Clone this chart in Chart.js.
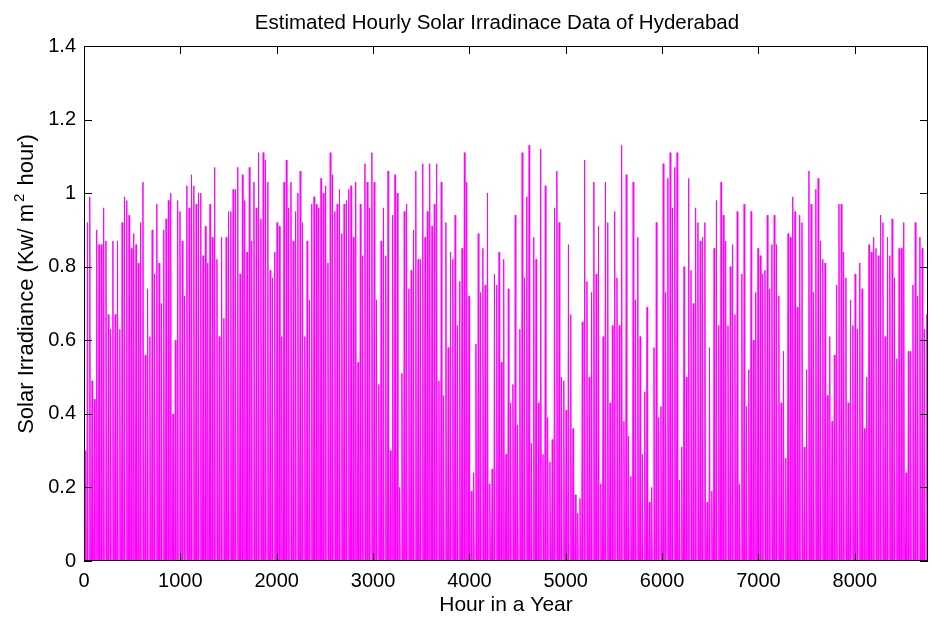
<!DOCTYPE html>
<html>
<head>
<meta charset="utf-8">
<title>Estimated Hourly Solar Irradiance - Hyderabad</title>
<script src="https://cdn.jsdelivr.net/npm/chart.js@4"></script>
<style>
  html, body { margin: 0; padding: 0; background: #fff; }
  #wrap { width: 932px; height: 618px; }
</style>
</head>
<body>
<div id="wrap"><canvas id="solar-chart" width="932" height="618"></canvas></div>
<script>
const xTicks = [0, 1000, 2000, 3000, 4000, 5000, 6000, 7000, 8000];
const yTicks = [0, 0.2, 0.4, 0.6, 0.8, 1, 1.2, 1.4];
const hoursInYear = 8760;

const chartTitle = "Estimated Hourly Solar Irradinace Data of Hyderabad";
// y label is drawn in three parts so the 2 can sit as a superscript
const yLabelParts = ["Solar Irradiance (Kw/ m", "2", " hour)"];
const xLabel = "Hour in a Year";

// sunrise, noon, sunset hour of each day
const dayHours = [6, 12, 18];

// noon peak of each day (kW/m2), day 1 .. day 365
const dailyPeak = [
  0.30, 0.92, 0.99, 0.49, 0.44, 0.90, 0.86, 0.86, 0.96, 0.87,
  0.67, 0.63, 0.87, 0.67, 0.87, 0.63, 0.92, 0.99, 0.98, 0.94,
  0.85, 0.89, 0.86, 0.81, 0.92, 1.03, 0.56, 0.74, 0.61, 0.90,
  0.78, 0.97, 0.81, 0.70, 0.90, 0.93, 0.98, 1.00, 0.40, 0.60,
  0.98, 0.95, 0.87, 0.72, 1.02, 0.96, 1.05, 1.02, 0.97, 1.00,
  1.00, 0.83, 0.91, 0.81, 0.97, 0.88, 1.07, 0.82, 0.61, 0.88,
  0.66,
  0.88, 0.95, 0.95, 1.01, 1.01, 1.07, 0.78, 1.05, 0.98, 0.84,
  1.07, 0.87, 1.03, 0.96, 1.11, 0.93, 1.11, 1.09, 1.03, 0.79,
  0.77, 0.84, 0.92, 0.91, 0.61, 1.03, 1.09, 0.96, 1.03, 0.87,
  0.95, 1.00, 1.06, 0.92, 0.61, 0.87, 0.71, 0.97, 0.99, 0.97,
  0.96, 1.04, 1.00, 1.02, 0.81, 1.11, 1.05, 0.95, 0.97, 1.01,
  0.89, 0.97, 0.98, 1.01, 1.02, 0.88, 1.03, 0.54, 0.97, 0.83,
  1.08,
  1.03, 0.96, 1.11, 1.03, 0.71, 0.48, 0.87, 0.96, 0.83, 1.06,
  0.30, 0.94, 1.05, 1.00, 0.20, 0.51, 0.95, 0.97, 0.74, 0.79,
  0.90, 1.06, 0.82, 0.82, 1.08, 0.88, 0.95, 1.08, 0.91, 0.97,
  1.08, 0.49, 1.03, 0.45, 0.92, 0.58, 0.84, 0.82, 0.94, 0.64,
  0.76, 0.85, 1.11, 1.03, 0.72, 0.19, 0.24, 0.59, 0.89, 0.73,
  0.85, 0.75, 1.00, 0.21, 0.25, 0.78, 0.75, 0.84, 0.54, 0.82,
  0.29,
  0.74, 0.43, 0.48, 0.94, 0.37, 0.63, 1.11, 0.77, 0.99, 1.13,
  0.32, 0.88, 0.82, 0.43, 1.12, 0.29, 1.02, 0.39, 0.27, 0.33,
  0.96, 1.06, 0.92, 0.50, 0.49, 0.41, 0.86, 0.67, 0.36, 0.18,
  0.13, 0.17, 0.65, 1.09, 0.76, 0.50, 0.73, 1.03, 0.78, 0.91,
  0.21, 0.61, 1.03, 0.92, 0.43, 0.64, 0.95, 0.77, 0.64, 1.13,
  0.38, 1.05, 0.34, 0.23, 1.03, 0.71, 0.88, 0.61, 0.29, 0.46,
  0.69,
  0.16, 0.20, 0.58, 0.92, 0.39, 0.42, 1.08, 0.73, 1.04, 1.11,
  0.96, 1.07, 1.11, 0.22, 0.31, 0.80, 0.50, 1.04, 0.79, 0.70,
  0.96, 0.92, 0.87, 0.88, 0.92, 0.16, 0.58, 0.19, 0.85, 0.98,
  0.64, 1.03, 0.94, 0.87, 0.64, 0.80, 0.86, 0.67, 0.95, 0.21,
  0.78, 0.97, 0.42, 0.52, 0.95, 0.60, 0.73, 0.85, 0.83, 0.78,
  0.79, 0.94, 0.74, 0.86, 0.94, 0.86, 0.72, 0.43, 0.57, 0.28,
  0.89,
  0.88, 0.99, 0.95, 0.69, 0.94, 0.92, 0.31, 0.52, 1.06, 0.97,
  0.73, 1.01, 1.04, 0.87, 0.82, 0.81, 0.45, 0.61, 0.38, 0.56,
  0.75, 0.97, 0.97, 0.84, 0.77, 0.43, 0.71, 0.64, 0.78, 0.63,
  0.81, 0.74, 0.36, 0.50, 0.86, 0.84, 0.88, 0.85, 0.83, 0.94,
  0.92, 0.61, 0.88, 0.83, 0.93, 0.77, 0.55, 0.85, 0.85, 0.92,
  0.24, 0.57, 0.57, 0.75, 0.92, 0.72, 0.88, 0.85, 0.63, 0.67
];

const hourlyPoints = [];
dailyPeak.forEach((peak, day) => {
  const dayStart = day * 24;
  hourlyPoints.push(
    { x: dayStart + dayHours[0], y: 0 },
    { x: dayStart + dayHours[1], y: peak },
    { x: dayStart + dayHours[2], y: 0 }
  );
});

const fontFamily = "'Liberation Sans', Arial, Helvetica, sans-serif";

// matlab style box with inward ticks on all four sides, plus the titles
const boxAxes = {
  id: "boxAxes",
  afterDatasetsDraw(chart) {
    const { ctx, chartArea: area, scales } = chart;
    const len = 8;
    ctx.save();
    ctx.strokeStyle = "#000";
    ctx.lineWidth = 1;
    ctx.beginPath();
    xTicks.forEach((v) => {
      const px = Math.round(scales.x.getPixelForValue(v)) + 0.5;
      ctx.moveTo(px, area.bottom);
      ctx.lineTo(px, area.bottom - len);
      ctx.moveTo(px, area.top);
      ctx.lineTo(px, area.top + len);
    });
    yTicks.forEach((v) => {
      const py = Math.round(scales.y.getPixelForValue(v)) + 0.5;
      ctx.moveTo(area.left, py);
      ctx.lineTo(area.left + len, py);
      ctx.moveTo(area.right, py);
      ctx.lineTo(area.right - len, py);
    });
    ctx.stroke();
    ctx.strokeRect(area.left + 0.5, area.top + 0.5, area.width - 1, area.height - 1);
    ctx.restore();
  },
  afterDraw(chart) {
    const { ctx } = chart;
    ctx.save();
    ctx.fillStyle = "#000";
    ctx.textBaseline = "alphabetic";

    ctx.font = "20.5px " + fontFamily;
    ctx.textAlign = "center";
    ctx.fillText(chartTitle, 497, 29);

    // rotated y label with superscript
    const mainFont = "22px " + fontFamily;
    const supFont = "15px " + fontFamily;
    const gap = 2;
    ctx.font = mainFont;
    const w1 = ctx.measureText(yLabelParts[0]).width;
    const w3 = ctx.measureText(yLabelParts[2]).width;
    ctx.font = supFont;
    const w2 = ctx.measureText(yLabelParts[1]).width;
    const total = w1 + w2 + w3 + gap * 2;
    ctx.translate(33, 284);
    ctx.rotate(-Math.PI / 2);
    ctx.textAlign = "left";
    let pos = -total / 2;
    ctx.font = mainFont;
    ctx.fillText(yLabelParts[0], pos, 0);
    pos += w1 + gap;
    ctx.font = supFont;
    ctx.fillText(yLabelParts[1], pos, -9);
    pos += w2 + gap;
    ctx.font = mainFont;
    ctx.fillText(yLabelParts[2], pos, 0);
    ctx.restore();
  },
};

Chart.defaults.font.family = fontFamily;
Chart.defaults.color = "#000";

new Chart(document.getElementById("solar-chart"), {
  type: "line",
  data: {
    datasets: [
      {
        label: "Solar Irradiance",
        data: hourlyPoints,
        borderColor: "#ff00ff",
        backgroundColor: "#ff00ff",
        borderWidth: 1,
        pointRadius: 0,
        tension: 0,
        fill: "origin",
      },
    ],
  },
  options: {
    responsive: false,
    animation: false,
    layout: { padding: { left: 0, right: 4, top: 46, bottom: 0 } },
    plugins: {
      legend: { display: false },
      tooltip: { enabled: false },
      title: { display: false },
    },
    scales: {
      x: {
        type: "linear",
        min: 0,
        max: hoursInYear,
        grid: { display: false, drawTicks: false },
        border: { display: false },
        afterBuildTicks: (scale) => {
          scale.ticks = xTicks.map((v) => ({ value: v }));
        },
        afterFit: (scale) => {
          scale.height = 57;
        },
        ticks: {
          font: { size: 20 },
          color: "#000",
          padding: 8,
          maxRotation: 0,
          callback: (v) => String(v),
        },
        title: {
          display: true,
          text: xLabel,
          font: { size: 21 },
          color: "#000",
          padding: { top: 0, bottom: 0 },
        },
      },
      y: {
        min: 0,
        max: 1.4,
        grid: { display: false, drawTicks: false },
        border: { display: false },
        afterBuildTicks: (scale) => {
          scale.ticks = yTicks.map((v) => ({ value: v }));
        },
        afterFit: (scale) => {
          scale.width = 84;
        },
        ticks: {
          font: { size: 20 },
          color: "#000",
          padding: 8,
          callback: (v) => String(Number(v.toFixed(1))),
        },
      },
    },
  },
  plugins: [boxAxes],
});
</script>
</body>
</html>
